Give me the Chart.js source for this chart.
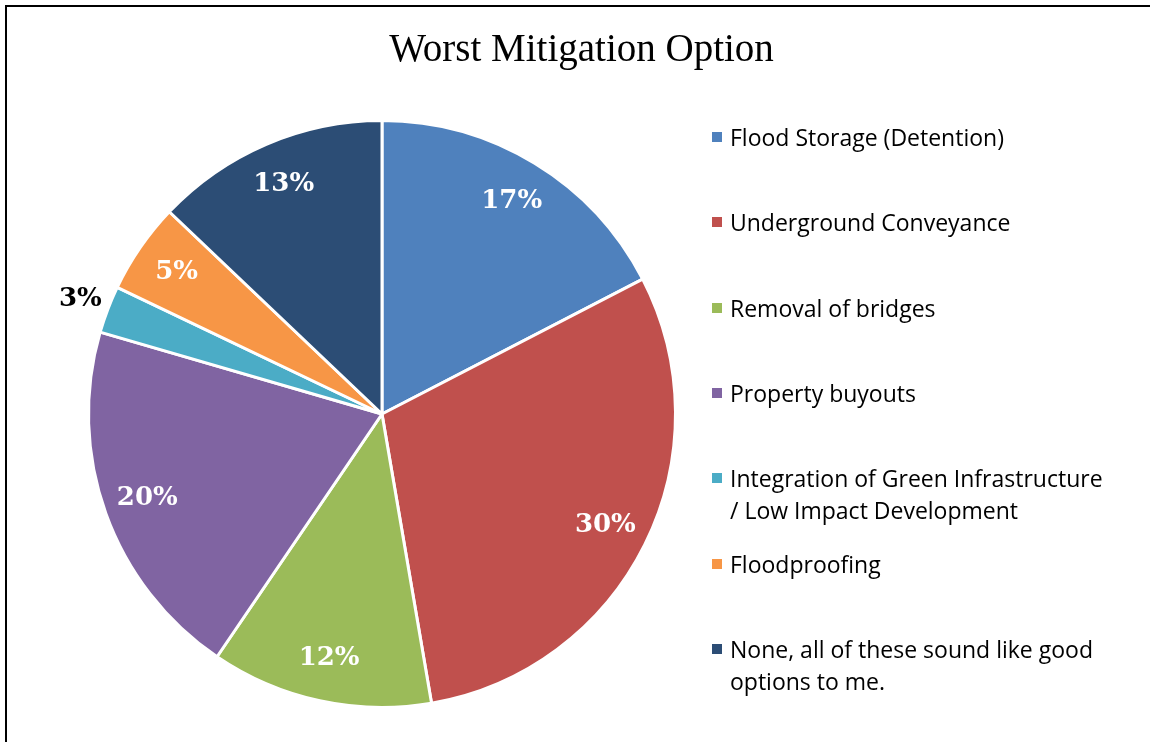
<!DOCTYPE html>
<html>
<head>
<meta charset="utf-8">
<script src="https://cdn.jsdelivr.net/npm/chart.js@4/dist/chart.umd.min.js"></script>
<style>
  html, body { margin: 0; padding: 0; background: #fff; overflow: hidden; }
  body { width: 1150px; height: 742px; position: relative; }
  #frame { position: absolute; left: 5px; top: 5px; width: 1145px; height: 737px;
           border-left: 2px solid #000; border-top: 2px solid #000; box-sizing: border-box; }
  #wrap { position: absolute; left: 0; top: 0; width: 1150px; height: 742px; }
  #title { position: absolute; left: 0; width: 1163px; top: 25px; text-align: center;
           font-family: "Liberation Serif", serif; font-size: 39px; color: #000; }
  #legend { position: absolute; left: 712px; top: 0; font-family: "Open Sans", sans-serif;
            font-size: 23px; color: #000; }
  .item { position: absolute; left: 0; width: 430px; }
  .sw { position: absolute; left: 0; width: 10px; height: 10px; }
  .lt { position: absolute; left: 18px; line-height: 32px; white-space: nowrap; }
</style>
</head>
<body>
<div id="frame"></div>
<div id="wrap"><canvas id="c" width="1150" height="742"></canvas></div>
<div id="title"></div>
<div id="legend"></div>
<script>
const chartTitle = "Worst Mitigation Option";
const categories = [
  "Flood Storage (Detention)",
  "Underground Conveyance",
  "Removal of bridges",
  "Property buyouts",
  "Integration of Green Infrastructure\n/ Low Impact Development",
  "Floodproofing",
  "None, all of these sound like good\noptions to me."
];
const values = [17.4, 29.9, 12.2, 20.0, 2.6, 5.0, 12.9];
const colors = ["#4F81BD", "#C0504D", "#9BBB59", "#8064A2", "#4BACC6", "#F79646", "#2C4D75"];

document.getElementById("title").textContent = chartTitle;

// HTML legend
const leg = document.getElementById("legend");
categories.forEach((cat, i) => {
  const it = document.createElement("div");
  it.className = "item";
  it.style.top = (137 + i * 85.3 - 16) + "px";
  const sw = document.createElement("div");
  sw.className = "sw";
  sw.style.background = colors[i];
  sw.style.top = "11px";
  const lt = document.createElement("div");
  lt.className = "lt";
  lt.innerHTML = cat.split("\n").map(s => s.replace(/&/g,"&amp;").replace(/</g,"&lt;")).join("<br>");
  it.appendChild(sw); it.appendChild(lt);
  leg.appendChild(it);
});

const total = values.reduce((a, b) => a + b, 0);

const labelPlugin = {
  id: "sliceLabels",
  afterDatasetsDraw(chart) {
    const ctx = chart.ctx;
    const meta = chart.getDatasetMeta(0);
    ctx.save();
    ctx.font = "bold 26px 'DejaVu Serif', serif";
    ctx.textAlign = "center";
    ctx.textBaseline = "middle";
    meta.data.forEach((arc, i) => {
      const p = arc.getProps(["x", "y", "startAngle", "endAngle", "outerRadius"], true);
      const mid = (p.startAngle + p.endAngle) / 2;
      const pct = values[i] / total * 100;
      const outside = pct < 4;
      const r = p.outerRadius * (outside ? 1.1 : 0.85);
      const x = p.x + Math.cos(mid) * r;
      const y = p.y + Math.sin(mid) * r;
      ctx.fillStyle = outside ? "#000" : "#fff";
      ctx.fillText(Math.round(pct) + "%", x, y);
    });
    ctx.restore();
  }
};

new Chart(document.getElementById("c"), {
  type: "pie",
  data: {
    labels: categories.map(c => c.replace("\n", " ")),
    datasets: [{
      data: values,
      backgroundColor: colors,
      borderColor: "#ffffff",
      borderWidth: 3
    }]
  },
  options: {
    responsive: false,
    animation: false,
    layout: { padding: { left: 87, right: 473, top: 119, bottom: 33 } },
    plugins: {
      legend: { display: false },
      title: { display: false },
      tooltip: { enabled: false }
    }
  },
  plugins: [labelPlugin]
});
</script>
</body>
</html>
